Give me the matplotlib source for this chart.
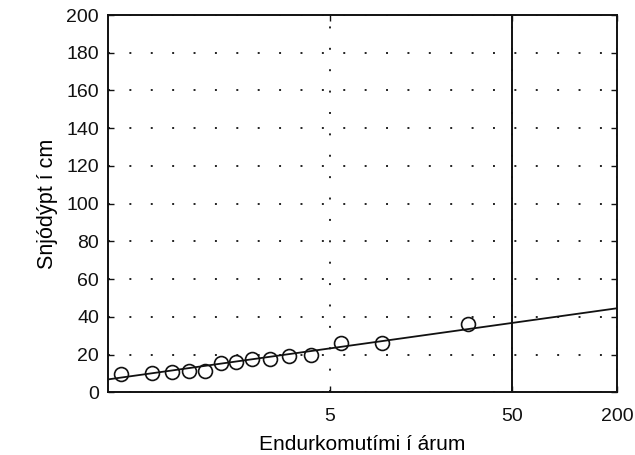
import numpy as np
import matplotlib
matplotlib.use("Agg")
import matplotlib.pyplot as plt

# return period (years) and snow depth (cm) of the plotted points
return_years = [1.030, 1.106, 1.196, 1.310, 1.453, 1.633, 1.852, 2.149,
                2.567, 3.138, 4.010, 5.70, 9.46, 28.4]
depth_cm = [9.7, 10.4, 10.6, 11.5, 11.5, 15.7, 15.9, 17.7,
            17.8, 19.4, 19.8, 26.1, 26.1, 36.1]

# fitted line, read at both ends of the axis
fit_years = [1.015, 200]
fit_cm = [6.9, 44.6]

xticks = [5, 50, 200]
yticks = list(range(0, 201, 20))
mark_year = 50


def gumbel_fwd(T):
    T = np.asarray(T, dtype=float)
    with np.errstate(divide="ignore", invalid="ignore"):
        p = np.clip(1.0 - 1.0 / T, 1e-12, 1 - 1e-12)
        return -np.log(-np.log(p))


def gumbel_inv(u):
    u = np.asarray(u, dtype=float)
    with np.errstate(over="ignore", divide="ignore"):
        return 1.0 / (1.0 - np.exp(-np.exp(-u)))


plt.rcParams["font.family"] = ["Liberation Sans", "DejaVu Sans"]

fig = plt.figure(figsize=(6.35, 4.55), dpi=100)
ax = fig.add_axes([0.170, 0.1375, 0.8017, 0.8295])
ax.set_xscale("function", functions=(gumbel_fwd, gumbel_inv))
ax.set_xlim(fit_years[0], 200)
ax.set_ylim(0, 200)

ax.set_xticks(xticks)
ax.set_xticklabels([str(t) for t in xticks])
ax.minorticks_off()
ax.set_yticks(yticks)

dots = (0, (1, 10))
ax.grid(True, linestyle=dots, linewidth=1.4, color="#222222")
ax.set_axisbelow(True)

ax.axvline(mark_year, color="#111111", linewidth=1.4, zorder=2)
ax.plot(fit_years, fit_cm, color="#111111", linewidth=1.3, zorder=3)
ax.plot(return_years, depth_cm, "o", markersize=10, markerfacecolor="none",
        markeredgecolor="#111111", markeredgewidth=1.2, zorder=4)

ax.tick_params(direction="in", length=4, width=1, top=True, right=True,
               colors="#111111", labelsize=14)
ax.tick_params(axis="x", pad=11.5)
ax.tick_params(axis="y", pad=6.5)
for s in ax.spines.values():
    s.set_linewidth(1.4)
    s.set_color("#111111")

ax.set_xlabel("Endurkomutími í árum", fontsize=15, labelpad=7)
ax.set_ylabel("Snjódýpt í cm", fontsize=15.5, labelpad=6)

fig.savefig("out.png", dpi=100)
